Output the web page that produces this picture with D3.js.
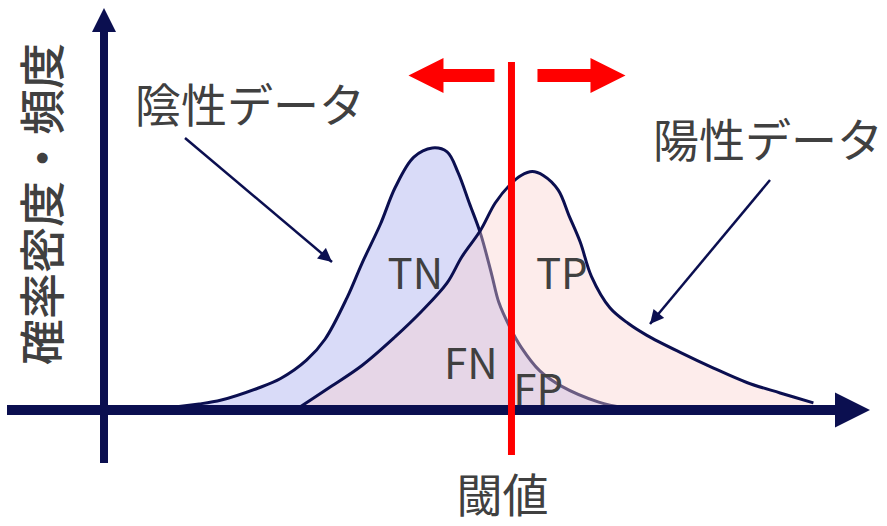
<!DOCTYPE html>
<html lang="ja">
<head>
<meta charset="utf-8">
<title>閾値とTN/FN/FP/TP</title>
<script src="https://cdn.jsdelivr.net/npm/d3@7"></script>
<style>
    body {margin: 0; background: #fff;}
    text {font-family: "Noto Sans CJK JP", "Noto Sans", sans-serif; fill: #404040;}
</style>
</head>
<body>
<script>
    // score (x) and density (y), negative class
    const negX = [0, 8, 13, 16, 21, 24, 27.5, 30, 33, 35, 37.5, 39.5, 42, 44.5, 46.5, 48, 49.5, 51, 52.5, 53.5, 55, 56.5, 59, 62, 67, 70.5];
    const negY = [0.2, 0.8, 2.3, 3.8, 8.4, 12, 19, 27, 43, 56, 71, 85, 96.5, 100, 98.5, 90.5, 79, 67.5, 52, 41, 31.5, 24, 15, 9, 3, 0.8];

    // positive class
    const posX = [26, 30.5, 35, 39.5, 43, 46.5, 48.5, 51, 53, 55, 56.5, 58, 59.5, 61.5, 63, 64.5, 66, 68.5, 71, 73.5, 78, 82.5, 87, 91.5, 96];
    const posY = [0, 8.4, 17, 28, 37.5, 48.5, 58.5, 68.5, 79, 86, 89.5, 91, 89.5, 84, 74, 64, 51, 39, 33, 28.5, 22, 16, 10.5, 6.5, 2.7];

    const threshold = 55.2;

    // region labels: text, score, density
    const regionLabels = ["TN", "TP", "FN", "FP"];
    const regionX = [42.2, 62, 49.7, 58.8];
    const regionY = [46, 46, 12, 2];

    const classLabels = ["陰性データ", "陽性データ"];
    const yTitle = "確率密度・頻度";
    const xTitle = "閾値";

    const dim = {width: 887, height: 526};
    const navy = "#0b0f50";

    const x = d3.scaleLinear().domain([0, 100]).range([103, 843]);
    const y = d3.scaleLinear().domain([0, 100]).range([410, 148]);

    const svg = d3.select("body").append("svg")
        .attr("width", dim.width)
        .attr("height", dim.height);

    const defs = svg.append("defs");
    defs.append("marker")
        .attr("id", "head")
        .attr("viewBox", "0 0 10 10")
        .attr("refX", 10).attr("refY", 5)
        .attr("markerWidth", 6.5).attr("markerHeight", 5.5)
        .attr("markerUnits", "strokeWidth")
        .attr("orient", "auto")
        .append("path")
        .attr("d", "M0,0 L10,5 L0,10 Z")
        .attr("fill", navy);

    const neg = negX.map((v, i) => [v, negY[i]]);
    const pos = posX.map((v, i) => [v, posY[i]]);

    const curve = d3.curveCatmullRom.alpha(0.5);
    const area = d3.area()
        .x(d => x(d[0])).y0(y(0)).y1(d => y(d[1]))
        .curve(curve);
    const line = d3.line()
        .x(d => x(d[0])).y(d => y(d[1]))
        .curve(curve);

    // negative distribution
    svg.append("path").attr("d", area(neg)).attr("fill", "#d9dbf8");
    svg.append("path").attr("d", line(neg))
        .attr("fill", "none").attr("stroke", navy).attr("stroke-width", 3);

    // positive distribution, see-through so the overlap shows
    svg.append("path").attr("d", area(pos)).attr("fill", "rgba(250,207,205,0.4)");
    svg.append("path").attr("d", line(pos))
        .attr("fill", "none").attr("stroke", navy).attr("stroke-width", 3);

    // axes
    const x0 = x(0), yb = y(0);
    svg.append("line")
        .attr("x1", 7).attr("x2", 838)
        .attr("y1", yb).attr("y2", yb)
        .attr("stroke", navy).attr("stroke-width", 10);
    svg.append("path")
        .attr("d", `M835,${yb - 17.5} L870,${yb} L835,${yb + 17.5} Z`)
        .attr("fill", navy);
    svg.append("line")
        .attr("x1", x0 + 1).attr("x2", x0 + 1)
        .attr("y1", 463).attr("y2", 30)
        .attr("stroke", navy).attr("stroke-width", 8);
    svg.append("path")
        .attr("d", `M${x0 - 11},32 L${x0 + 1},8 L${x0 + 13},32 Z`)
        .attr("fill", navy);

    // region labels
    svg.selectAll(".region")
        .data(regionLabels)
        .join("text")
        .attr("class", "region")
        .attr("x", (d, i) => x(regionX[i]))
        .attr("y", (d, i) => y(regionY[i]))
        .attr("text-anchor", "middle")
        .style("font-size", "42px")
        .text(d => d);

    // class labels with pointer arrows
    svg.append("text").attr("x", 135).attr("y", 122)
        .style("font-size", "46px").text(classLabels[0]);
    svg.append("text").attr("x", 653).attr("y", 157)
        .style("font-size", "46px").text(classLabels[1]);

    svg.append("line")
        .attr("x1", 185).attr("y1", 138).attr("x2", 332).attr("y2", 262)
        .attr("stroke", navy).attr("stroke-width", 2.5)
        .attr("marker-end", "url(#head)");
    svg.append("line")
        .attr("x1", 770).attr("y1", 180).attr("x2", 650).attr("y2", 324)
        .attr("stroke", navy).attr("stroke-width", 2.5)
        .attr("marker-end", "url(#head)");

    // axis titles
    svg.append("text")
        .attr("transform", "translate(59,204) rotate(-90)")
        .attr("text-anchor", "middle")
        .style("font-size", "46px")
        .style("font-weight", 500)
        .text(yTitle);
    svg.append("text")
        .attr("x", x(threshold) - 9).attr("y", 512)
        .attr("text-anchor", "middle")
        .style("font-size", "46px")
        .text(xTitle);

    // threshold line and the red arrows
    const tx = x(threshold);
    svg.append("line")
        .attr("x1", tx).attr("x2", tx)
        .attr("y1", 62).attr("y2", 455)
        .attr("stroke", "#ff0000").attr("stroke-width", 7);

    const red = svg.append("g").attr("fill", "#ff0000");
    const ay = 75.5;
    red.append("path")
        .attr("d", `M${tx - 17},${ay - 6.5} L${tx - 68},${ay - 6.5} L${tx - 68},${ay - 17.5} L${tx - 103},${ay}
                    L${tx - 68},${ay + 17.5} L${tx - 68},${ay + 6.5} L${tx - 17},${ay + 6.5} Z`);
    red.append("path")
        .attr("d", `M${tx + 26},${ay - 6.5} L${tx + 79},${ay - 6.5} L${tx + 79},${ay - 17.5} L${tx + 114},${ay}
                    L${tx + 79},${ay + 17.5} L${tx + 79},${ay + 6.5} L${tx + 26},${ay + 6.5} Z`);
</script>
</body>
</html>
